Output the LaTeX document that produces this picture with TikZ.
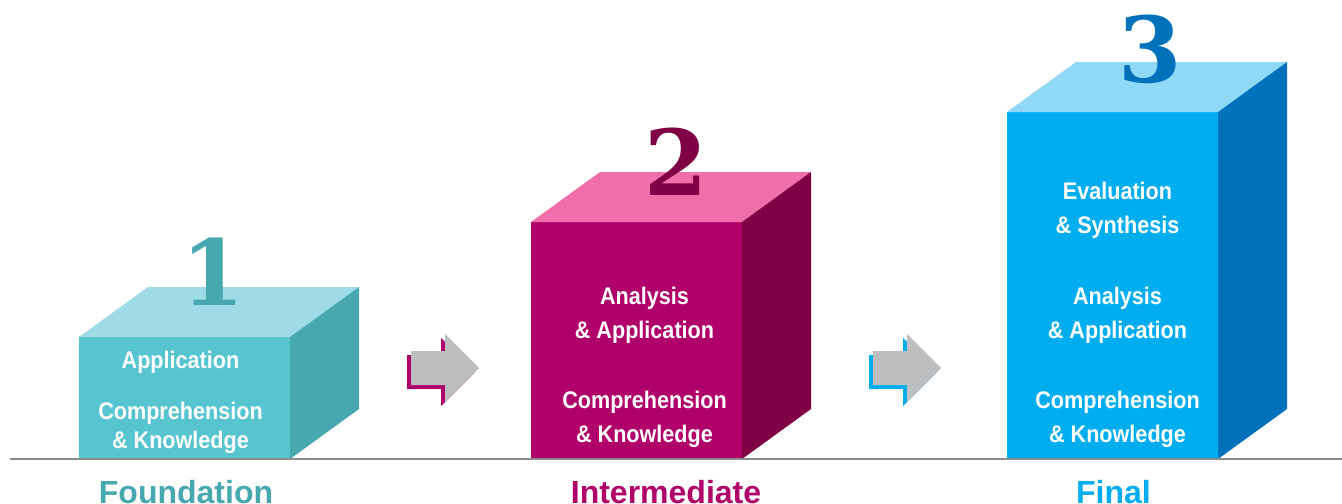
\documentclass[tikz,border=0pt]{standalone}
\usepackage{fontspec}
\setmainfont{Liberation Serif}
\setsansfont{Liberation Sans}
\newfontfamily\digitfont{DejaVu Serif}
\newfontfamily\boxfont{Liberation Sans}[FakeStretch=0.9]

\definecolor{tealFront}{HTML}{56C5D0}
\definecolor{tealTop}{HTML}{9FDBE6}
\definecolor{tealSide}{HTML}{47A8B0}
\definecolor{magFront}{HTML}{B0006A}
\definecolor{magTop}{HTML}{F06EA9}
\definecolor{magSide}{HTML}{7F0045}
\definecolor{bluFront}{HTML}{00ADEE}
\definecolor{bluTop}{HTML}{8FD8F6}
\definecolor{bluSide}{HTML}{0072BC}
\definecolor{arrowGray}{HTML}{BCBEC0}
\definecolor{groundGray}{HTML}{8C8C8C}

\begin{document}
\begin{tikzpicture}[
    x=0.5pt, y=-0.5pt,
    levelnum/.style={font=\digitfont\bfseries\fontsize{45.5}{46}\selectfont, anchor=base, inner sep=0pt},
    leveltext/.style={font=\boxfont\bfseries\fontsize{12}{14}\selectfont, text=white, anchor=base, inner sep=0pt},
    levelname/.style={font=\sffamily\bfseries\fontsize{16}{18}\selectfont, anchor=base, inner sep=0pt},
    groundline/.style={draw=groundGray, line width=0.75pt}
]
\useasboundingbox (0,0) rectangle (1342,503);
\clip (0,0) rectangle (1342,503);

% the three blocks
\foreach \xl/\yt/\col in {79/337/teal, 531/222/mag, 1007/112/blu} {
  \fill[\col Front] (\xl,\yt) rectangle (\xl+211,459);
  \fill[\col Top] (\xl,\yt) -- ++(69,-50) -- ++(211,0) -- ++(-69,50) -- cycle;
  \fill[\col Side] (\xl+211,\yt) -- ++(69,-50) -- (\xl+280,409) -- (\xl+211,459) -- cycle;
}

% arrows between the blocks
\foreach \ax/\col in {411/magFront, 873/bluFront} {
  \fill[\col] (\ax-4,355) -- ++(34,0) -- ++(0,-17) -- ++(34,34) -- ++(-34,34) -- ++(0,-17) -- ++(-34,0) -- cycle;
  \fill[arrowGray] (\ax,351) -- ++(34,0) -- ++(0,-17) -- ++(34,34) -- ++(-34,34) -- ++(0,-17) -- ++(-34,0) -- cycle;
}

\draw[groundline] (10,459) -- (1342,459);

% numbers
\node (num1) [levelnum, text=tealSide] at (213,305.5) {1};
\node (num2) [levelnum, text=magSide] at (676,195.5) {2};
\node (num3) [levelnum, text=bluSide] at (1150,82.5) {3};

% block 1
\node (appA) [leveltext] at (180.5,368) {Application};
\node (compA) [leveltext] at (180.5,419) {Comprehension};
\node (knowA) [leveltext] at (180.5,448) {\& Knowledge};

% block 2
\node (anaB) [leveltext] at (644.5,304) {Analysis};
\node (appB) [leveltext] at (644.5,338) {\& Application};
\node (compB) [leveltext] at (644.5,408) {Comprehension};
\node (knowB) [leveltext] at (644.5,442) {\& Knowledge};

% block 3
\node (evalC) [leveltext] at (1117.5,199) {Evaluation};
\node (synC) [leveltext] at (1117.5,233) {\& Synthesis};
\node (anaC) [leveltext] at (1117.5,304) {Analysis};
\node (appC) [leveltext] at (1117.5,338) {\& Application};
\node (compC) [leveltext] at (1117.5,408) {Comprehension};
\node (knowC) [leveltext] at (1117.5,442) {\& Knowledge};

% level names
\node (foundation) [levelname, text=tealSide] at (186,503) {Foundation};
\node (intermediate) [levelname, text=magFront] at (666,503) {Intermediate};
\node (final) [levelname, text=bluFront] at (1113.5,503) {Final};

\end{tikzpicture}
\end{document}
